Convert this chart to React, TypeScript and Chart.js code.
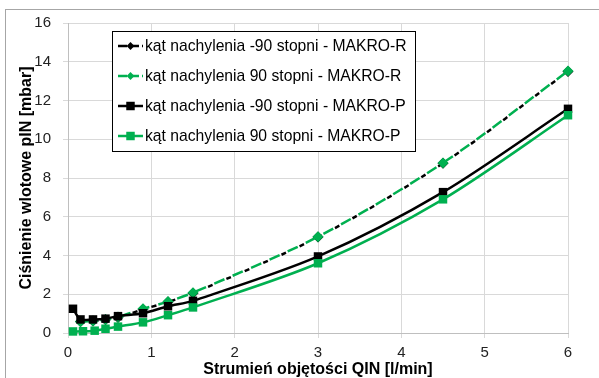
import React, { useEffect, useRef } from "react";
import { Chart, registerables } from "chart.js";

Chart.register(...registerables);

// ---- data ----
const xP_neg90 = [0.06, 0.15, 0.3, 0.45, 0.6, 0.9, 1.2, 1.5, 3, 4.5, 6];
const yP_neg90 = [1.25, 0.7, 0.7, 0.74, 0.87, 1.02, 1.38, 1.66, 3.95, 7.27, 11.57];

const xP_90 = [0.06, 0.18, 0.32, 0.45, 0.6, 0.9, 1.2, 1.5, 3, 4.5, 6];
const yP_90 = [0.08, 0.09, 0.12, 0.22, 0.33, 0.55, 0.92, 1.32, 3.6, 6.9, 11.24];

const xR = [0.15, 0.3, 0.45, 0.6, 0.9, 1.2, 1.5, 3, 4.5, 6];
const yR_neg90 = [0.6, 0.62, 0.68, 0.8, 1.22, 1.6, 2.05, 4.95, 8.76, 13.5];
const yR_90 = [0.58, 0.62, 0.7, 0.82, 1.25, 1.62, 2.08, 4.97, 8.78, 13.52];

const labels = [
  "kąt nachylenia -90 stopni - MAKRO-R",
  "kąt nachylenia 90 stopni - MAKRO-R",
  "kąt nachylenia -90 stopni - MAKRO-P",
  "kąt nachylenia 90 stopni - MAKRO-P",
];

const xTitle = "Strumień objętości QIN [l/min]";
const yTitle = "Ciśnienie wlotowe pIN [mbar]";
const xMin = 0, xMax = 6, xStep = 1;
const yMin = 0, yMax = 16, yStep = 2;

const BLACK = "#000000";
const GREEN = "#00B050";
const FONT = "'Liberation Sans', Arial, Helvetica, sans-serif";

const pts = (xs: number[], ys: number[]) => xs.map((x, i) => ({ x, y: ys[i] }));

const legendPlugin = {
  id: "boxLegend",
  afterDraw(chart: any) {
    const ctx = chart.ctx as CanvasRenderingContext2D;
    const bx = 112, by = 31, bw = 303, bh = 120;
    ctx.save();
    ctx.fillStyle = "#ffffff";
    ctx.fillRect(bx, by, bw, bh);
    ctx.strokeStyle = "#000000";
    ctx.lineWidth = 1;
    ctx.strokeRect(bx + 0.5, by + 0.5, bw, bh);
    chart.data.datasets.forEach((ds: any, i: number) => {
      const cy = by + 15 + i * 30;
      ctx.strokeStyle = ds.borderColor;
      ctx.lineWidth = 2.5;
      ctx.setLineDash(ds.legendDash || []);
      ctx.beginPath();
      ctx.moveTo(118, cy);
      ctx.lineTo(143, cy);
      ctx.stroke();
      ctx.setLineDash([]);
      ctx.fillStyle = ds.pointBackgroundColor;
      const r = ds.pointRadius;
      const s = r * Math.SQRT1_2;
      const mx = 130.5;
      ctx.beginPath();
      if (ds.pointStyle === "rectRot") {
        ctx.moveTo(mx - s, cy);
        ctx.lineTo(mx, cy + s);
        ctx.lineTo(mx + s, cy);
        ctx.lineTo(mx, cy - s);
        ctx.closePath();
      } else {
        ctx.rect(mx - s, cy - s, 2 * s, 2 * s);
      }
      ctx.fill();
      ctx.fillStyle = "#000000";
      ctx.font = `15.7px ${FONT}`;
      ctx.textAlign = "left";
      ctx.textBaseline = "middle";
      ctx.fillText(ds.label, 145, cy + 1);
    });
    ctx.restore();
  },
};

export default function App() {
  const ref = useRef<HTMLCanvasElement>(null);
  useEffect(() => {
    const common = { borderWidth: 2.5, tension: 0.3, clip: false as any, pointBorderWidth: 0 };
    const chart = new Chart(ref.current!, {
      type: "line",
      data: {
        datasets: [
          {
            ...common,
            label: labels[0],
            data: pts(xR, yR_neg90),
            borderColor: BLACK,
            backgroundColor: BLACK,
            pointBackgroundColor: BLACK,
            pointBorderColor: BLACK,
            pointStyle: "rectRot",
            pointRadius: 5.5,
            borderDash: [5, 15],
            borderDashOffset: 7,
            legendDash: [9, 3],
            order: 4,
          } as any,
          {
            ...common,
            label: labels[1],
            data: pts(xR, yR_90),
            borderColor: GREEN,
            backgroundColor: GREEN,
            pointBackgroundColor: GREEN,
            pointBorderColor: GREEN,
            pointStyle: "rectRot",
            pointRadius: 5.5,
            borderDash: [11, 9],
            legendDash: [9, 3],
            order: 3,
          } as any,
          {
            ...common,
            label: labels[2],
            data: pts(xP_neg90, yP_neg90),
            borderColor: BLACK,
            backgroundColor: BLACK,
            pointBackgroundColor: BLACK,
            pointBorderColor: BLACK,
            pointStyle: "rect",
            pointRadius: 6,
            order: 2,
          } as any,
          {
            ...common,
            label: labels[3],
            data: pts(xP_90, yP_90),
            borderColor: GREEN,
            backgroundColor: GREEN,
            pointBackgroundColor: GREEN,
            pointBorderColor: GREEN,
            pointStyle: "rect",
            pointRadius: 6,
            order: 1,
          } as any,
        ],
      },
      options: {
        responsive: false,
        animation: false,
        devicePixelRatio: 1,
        layout: { padding: { left: 0, top: 23, right: 31, bottom: 0 } },
        plugins: { legend: { display: false }, tooltip: { enabled: false } },
        scales: {
          x: {
            type: "linear",
            min: xMin,
            max: xMax,
            afterFit: (s: any) => { s.height = 45; },
            ticks: { stepSize: xStep, color: "#222", font: { size: 15, family: FONT }, padding: 6 },
            grid: { color: "#d9d9d9", tickLength: 5, lineWidth: 1 },
            border: { display: true, color: "#bfbfbf", width: 1 },
            title: {
              display: true,
              text: xTitle,
              color: "#000",
              font: { size: 16, weight: "bold", family: FONT },
              padding: { top: 0, bottom: -1 },
            },
          },
          y: {
            type: "linear",
            min: yMin,
            max: yMax,
            afterFit: (s: any) => { s.width = 68; },
            ticks: { stepSize: yStep, color: "#222", font: { size: 15, family: FONT }, padding: 12 },
            grid: { color: "#d9d9d9", tickLength: 5, lineWidth: 1 },
            border: { display: true, color: "#bfbfbf", width: 1 },
            title: {
              display: true,
              text: yTitle,
              color: "#000",
              font: { size: 16, weight: "bold", family: FONT },
              padding: { top: 17, bottom: 0 },
            },
          },
        },
      } as any,
      plugins: [legendPlugin],
    });
    return () => chart.destroy();
  }, []);

  return (
    <div style={{ position: "fixed", left: 0, top: 0, width: 599, height: 378, overflow: "hidden", background: "#fff" }}>
      <div style={{ position: "absolute", left: 5, top: 9, width: 700, height: 500, border: "1px solid #a6a6a6" }} />
      <canvas ref={ref} width={599} height={378} style={{ position: "absolute", left: 0, top: 0, width: 599, height: 378 }} />
    </div>
  );
}
